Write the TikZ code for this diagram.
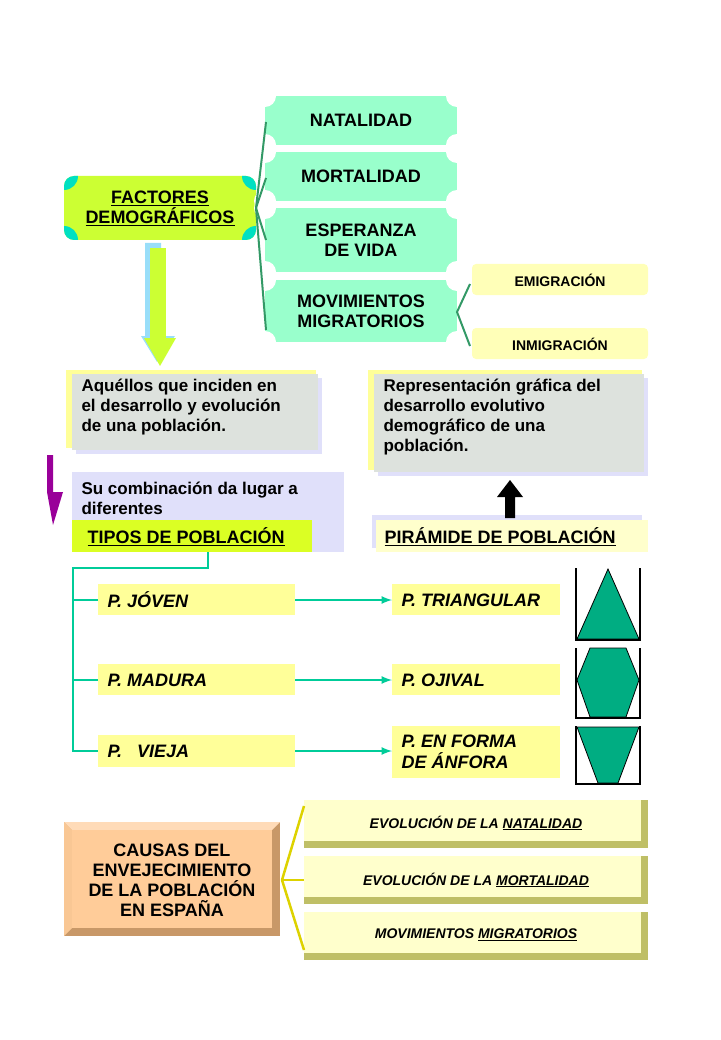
\documentclass[tikz,border=0pt]{standalone}
\usepackage{fontspec}
\setmainfont{Liberation Sans}
\definecolor{mint}{HTML}{99FFCC}
\definecolor{lime}{HTML}{CCFF33}
\definecolor{paleyel}{HTML}{FFFF99}
\definecolor{cream}{HTML}{FFFFCC}
\definecolor{tealc}{HTML}{00CC99}
\definecolor{dgreen}{HTML}{339966}
\definecolor{lav}{HTML}{E0E0FA}
\definecolor{greybox}{HTML}{DDE2DD}
\definecolor{salmon}{HTML}{FFCC99}
\definecolor{brownb}{HTML}{C89868}
\tikzset{
	txt/.style={font=\bfseries\fontsize{18}{20}\selectfont,align=center},
	itxt/.style={font=\bfseries\itshape\fontsize{18}{21}\selectfont,anchor=west},
	stxt/.style={font=\bfseries\fontsize{14}{16}\selectfont},
	yelbox/.style={fill=paleyel,draw=none},
	tealline/.style={tealc,line width=2.5pt},
	tealarrow/.style={tealline,-latex},
	shapefill/.style={fill=tealc!85!black,draw=black,thick}
		}
\newcommand{\scallop}[5]{% x1,y1,x2,y2,name
	\fill[mint] (#1,#2) rectangle (#3,#4);
	\foreach \cx/\cy in {#1/#2,#3/#2,#1/#4,#3/#4}
		\fill[white] (\cx,\cy) circle (11);
	\coordinate (#5) at ({(#1+#3)/2},{(#2+#4)/2});}
\newcommand{\bevel}[5]{% x1,y1,x2,y2,colour
	\fill[#5!50!olive] (#1,#2) rectangle (#3,#4);
	\fill[#5] (#1,#2) rectangle ({#3-7},{#4-7});}

\begin{document}
\begin{tikzpicture}[x=1pt,y=-1pt]
	\useasboundingbox (0,0) rectangle (720,1040);

	% factores demograficos
	\fill[lime,rounded corners=10] (64,176) rectangle (256,240);
	\begin{scope}
		\clip[rounded corners=10] (64,176) rectangle (256,240);
		\foreach \cx/\cy in {64/176,256/176,64/240,256/240}
			\fill[tealc!60!cyan] (\cx,\cy) circle (14);
	\end{scope}
	\node[txt] (fac) at (160,208) {\underline{FACTORES}\\\underline{DEMOGRÁFICOS}};
	\coordinate (facE) at (256,208);

	\scallop{265}{96}{457}{145}{nat}
	\scallop{265}{152}{457}{201}{mor}
	\scallop{265}{208}{457}{272}{esp}
	\scallop{265}{280}{457}{342}{mov}
	\node[txt] at (nat) {NATALIDAD};
	\node[txt] at (mor) {MORTALIDAD};
	\node[txt] at (esp) {ESPERANZA\\DE VIDA};
	\node[txt] at (mov) {MOVIMIENTOS\\MIGRATORIOS};
	\foreach \yy in {122,178,240,330}
		\draw[dgreen,line width=2pt] (facE) -- (266,\yy);

	\fill[cream!60!paleyel,rounded corners=4] (472,264) rectangle (648,295);
	\fill[cream!60!paleyel,rounded corners=4] (472,328) rectangle (648,359);
	\node[stxt] (emi) at (560,280) {EMIGRACIÓN};
	\node[stxt] (inm) at (560,344) {INMIGRACIÓN};
	\coordinate (movE) at (457,312);
	\draw[dgreen,line width=2pt] (470,284) -- (movE) -- (470,346);

	% flecha grande
	\fill[cyan!40] (145,243) rectangle (161,336) -- (141,336) -- (157,362) -- (175,336) -- cycle;
	\fill[lime] (150,248) rectangle (166,338);
	\fill[lime] (144,338) -- (176,338) -- (160,366) -- cycle;

	% definiciones
	\fill[paleyel] (66,370) rectangle (316,448);
	\fill[lav] (76,378) rectangle (322,454);
	\fill[greybox] (72,374) rectangle (318,450);
	\node[font=\bfseries\fontsize{17}{20}\selectfont,align=left,anchor=north west]
		(def) at (78,375) {Aquéllos que inciden en\\el desarrollo y evolución\\de una población.};
	\fill[paleyel] (368,370) rectangle (642,470);
	\fill[lav] (378,378) rectangle (648,476);
	\fill[greybox] (374,374) rectangle (644,472);
	\node[font=\bfseries\fontsize{17}{20}\selectfont,align=left,anchor=north west]
		(rep) at (380,375) {Representación gráfica del\\desarrollo evolutivo\\demográfico de una\\población.};

	% flecha morada
	\fill[violet!80!magenta] (47,455) -- (53,455) -- (53,492) -- (63,492) -- (53,525) -- (47,492) -- cycle;

	\fill[lav] (72,472) rectangle (344,552);
	\node[font=\bfseries\fontsize{17}{20}\selectfont,align=left,anchor=north west]
		(comb) at (78,478) {Su combinación da lugar a\\diferentes};
	\fill[lime!70!yellow] (72,520) rectangle (312,552);
	\node[txt,anchor=west] (tipos) at (84,537) {\underline{TIPOS DE POBLACIÓN}};

	\fill[lav] (372,515) rectangle (642,548);
	\fill[cream] (376,520) rectangle (648,552);
	\node[txt,anchor=west] (pir) at (381,537) {\underline{PIRÁMIDE DE POBLACIÓN}};
	\fill[black] (505,518) rectangle (515,497) -- (497,497) -- (510,480) -- (523,497) -- cycle;

	% tipos
	\fill[yelbox] (98,584) rectangle (295,615);
	\fill[yelbox] (98,664) rectangle (295,695);
	\fill[yelbox] (98,735) rectangle (295,767);
	\node[itxt] (jov) at (104,600) {P. JÓVEN};
	\node[itxt] (mad) at (104,680) {P. MADURA};
	\node[itxt] (vie) at (104,751) {P. \ \ VIEJA};
	\fill[yelbox] (392,584) rectangle (560,615);
	\fill[yelbox] (392,664) rectangle (560,695);
	\fill[yelbox] (392,726) rectangle (560,778);
	\node[itxt] (tri) at (398,600) {P. TRIANGULAR};
	\node[itxt] (oji) at (398,680) {P. OJIVAL};
	\node[itxt,align=left] (anf) at (398,752) {P. EN FORMA\\DE ÁNFORA};

	\draw[tealline] (208,552) -- (208,568) -- (73,568) -- (73,751) -- (98,751);
	\draw[tealline] (73,600) -- (98,600) (73,680) -- (98,680);
	\foreach \yy in {600,680,751}
		\draw[tealarrow] (295,\yy) -- (392,\yy);

	% formas
	\fill[shapefill] (608,569) -- (639,639) -- (577,639) -- cycle;
	\draw[very thick] (576,568) -- (576,640) -- (640,640) -- (640,568);
	\fill[shapefill] (590,648) -- (626,648) -- (639,680) -- (626,717) -- (590,717) -- (577,680) -- cycle;
	\draw[very thick] (576,648) -- (576,718) -- (640,718) -- (640,648);
	\fill[shapefill] (577,727) -- (639,727) -- (618,783) -- (598,783) -- cycle;
	\draw[very thick] (576,726) -- (576,784) -- (640,784) -- (640,726);

	% causas
	\fill[brownb] (64,822) rectangle (280,936);
	\fill[salmon!70!white] (64,822) -- (280,822) -- (272,830) -- (72,830) -- cycle;
	\fill[salmon!90!brownb] (64,822) -- (72,830) -- (72,928) -- (64,936) -- cycle;
	\fill[salmon] (72,830) rectangle (272,928);
	\node[txt] (cau) at (172,880) {CAUSAS DEL\\ENVEJECIMIENTO\\DE LA POBLACIÓN\\EN ESPAÑA};
	\coordinate (cauE) at (282,880);

	\bevel{304}{800}{648}{848}{cream}
	\bevel{304}{856}{648}{904}{cream}
	\bevel{304}{912}{648}{960}{cream}
	\node[font=\bfseries\itshape\fontsize{14}{16}\selectfont] (enat) at (476,823) {EVOLUCIÓN DE LA \underline{NATALIDAD}};
	\node[font=\bfseries\itshape\fontsize{14}{16}\selectfont] (emor) at (476,880) {EVOLUCIÓN DE LA \underline{MORTALIDAD}};
	\node[font=\bfseries\itshape\fontsize{14}{16}\selectfont] (emig) at (476,935) {MOVIMIENTOS \underline{MIGRATORIOS}};
	\foreach \yy in {806,880,950}
		\draw[yellow!70!olive,line width=2.5pt] (cauE) -- (304,\yy);
\end{tikzpicture}
\end{document}
